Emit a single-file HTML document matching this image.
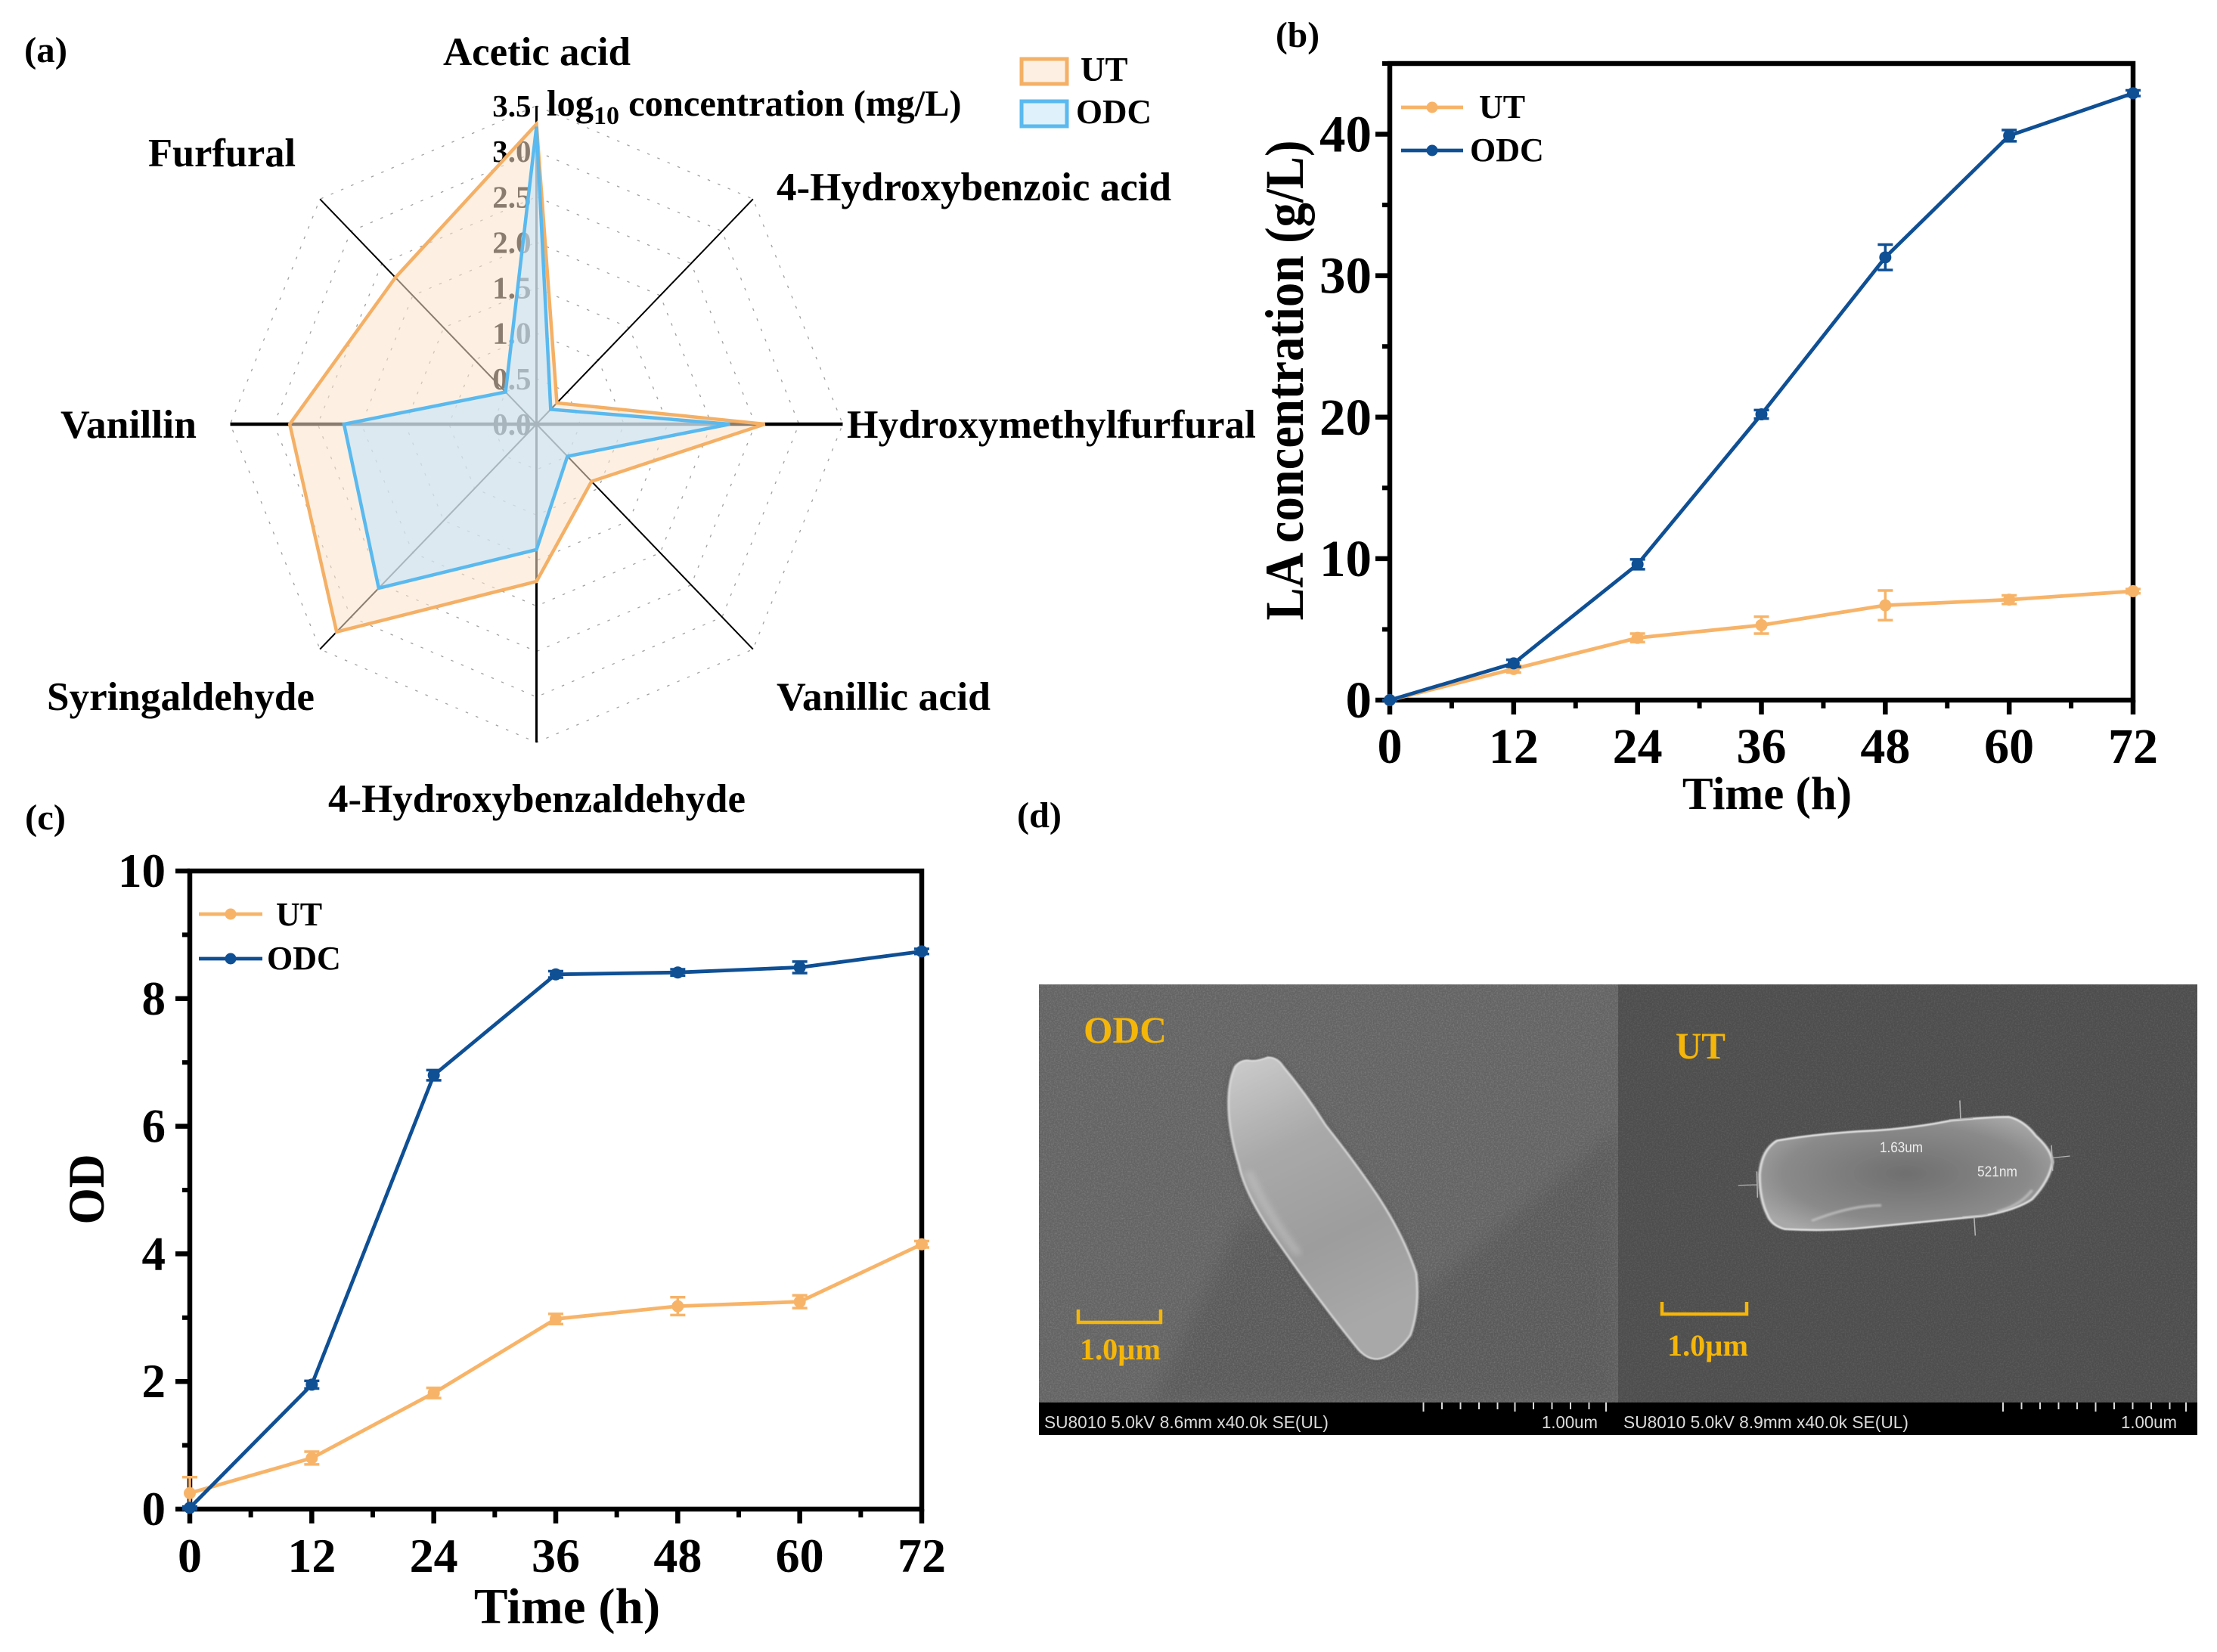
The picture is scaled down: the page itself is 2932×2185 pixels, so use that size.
<!DOCTYPE html>
<html lang="en">
<head>
<meta charset="utf-8">
<title>Radar, LA concentration, OD and SEM figure</title>
<style>
html,body{margin:0;padding:0;background:#fff;width:2932px;height:2185px;overflow:hidden}
svg{display:block}
text{font-family:"Liberation Serif",serif;font-weight:bold;fill:#000}
.sem{font-family:"Liberation Sans",sans-serif;font-weight:normal;fill:#dcdcdc}
.gold{fill:#f5b60a}
</style>
</head>
<body>
<svg id="fig" xmlns="http://www.w3.org/2000/svg" width="2932" height="2185" viewBox="0 0 2932 2185">
<defs>
<filter id="noise" x="0" y="0" width="100%" height="100%"><feTurbulence type="fractalNoise" baseFrequency="0.55" numOctaves="2" seed="4"/><feColorMatrix type="matrix" values="0 0 0 0 1  0 0 0 0 1  0 0 0 0 1  1.6 0 0 0 -0.62"/></filter>
<filter id="blur30"><feGaussianBlur stdDeviation="12"/></filter>
<filter id="blur10"><feGaussianBlur stdDeviation="10"/></filter>
<filter id="blur3"><feGaussianBlur stdDeviation="2.5"/></filter>
<filter id="blur1"><feGaussianBlur stdDeviation="2"/></filter>
<clipPath id="clipOdc"><rect x="1374" y="1302" width="766" height="553"/></clipPath>
<linearGradient id="cellA" x1="0" y1="0" x2="0.3" y2="1"><stop offset="0" stop-color="#cdcdcd"/><stop offset="0.35" stop-color="#a9a9a9"/><stop offset="0.7" stop-color="#9d9d9d"/><stop offset="1" stop-color="#a8a8a8"/></linearGradient>
<radialGradient id="cellB" cx="0.5" cy="0.5" r="0.6"><stop offset="0" stop-color="#6f6f6f"/><stop offset="0.7" stop-color="#8a8a8a"/><stop offset="1" stop-color="#a8a8a8"/></radialGradient>
</defs>

<g id="panel-a">
<text x="32" y="82" font-size="48" textLength="57" lengthAdjust="spacingAndGlyphs">(a)</text>
<g id="radar-grid"></g>
<g id="radar-axes"></g>
<g id="radar-ticks"></g>
<g id="radar-series"></g>
<g id="radar-cats"></g>
<text x="723" y="153" font-size="48.500">log<tspan font-size="34" dy="11">10</tspan><tspan dy="-11"> concentration (mg/L)</tspan></text>
<rect x="1351" y="78" width="60" height="33" fill="#fdf0e2" stroke="#f4b066" stroke-width="5"/>
<rect x="1351" y="134" width="60" height="33" fill="#dff1fb" stroke="#5ab9ee" stroke-width="5"/>
<text x="1429" y="107" font-size="45">UT</text>
<text x="1423" y="163" font-size="45">ODC</text>
</g>

<g id="panel-b">
<text x="1687" y="62" font-size="48" textLength="58" lengthAdjust="spacingAndGlyphs">(b)</text>
</g>
<g id="panel-c">
<text x="33" y="1097" font-size="48" textLength="54" lengthAdjust="spacingAndGlyphs">(c)</text>
</g>

<g id="panel-d">
<text x="1345" y="1094" font-size="48" textLength="59" lengthAdjust="spacingAndGlyphs">(d)</text>

<g>
<rect x="1374" y="1302" width="766" height="553" fill="#636363"/>
<g clip-path="url(#clipOdc)">
<path d="M1524 1855 L1645 1608 L1870 1720 L2140 1496 L2140 1855 Z" fill="#000" opacity="0.09" filter="url(#blur30)"/>
</g>
<rect x="1374" y="1302" width="766" height="553" filter="url(#noise)" opacity="0.2"/>
<g transform="translate(1340 1280) scale(0.5102 0.4082)">
<path d="M575 320 Q590 298 610 300 Q630 305 660 290 Q685 290 700 320 Q760 410 810 510 Q880 620 940 730 Q1010 860 1045 990 Q1055 1100 1030 1190 Q990 1260 945 1268 Q915 1270 890 1230 Q780 1060 670 860 Q600 730 585 640 Q555 520 558 420 Q560 360 575 320 Z" fill="#333" opacity="0.45" filter="url(#blur10)"/>
<path d="M575 320 Q590 298 610 300 Q630 305 660 290 Q685 290 700 320 Q760 410 810 510 Q880 620 940 730 Q1010 860 1045 990 Q1055 1100 1030 1190 Q990 1260 945 1268 Q915 1270 890 1230 Q780 1060 670 860 Q600 730 585 640 Q555 520 558 420 Q560 360 575 320 Z" fill="url(#cellA)" stroke="#dedede" stroke-width="5" filter="url(#blur1)"/>
<path d="M610 660 Q650 780 740 930" fill="none" stroke="#d0d0d0" stroke-width="14" opacity="0.6" filter="url(#blur10)"/>
</g>
<rect x="1374" y="1855" width="766" height="43" fill="#000"/>
</g>

<g>
<rect x="2140" y="1302" width="766" height="553" fill="#4d4d4d"/>
<rect x="2140" y="1302" width="766" height="553" filter="url(#noise)" opacity="0.12"/>
<g transform="translate(2130 1280) scale(0.5115 0.4082)">
<path d="M430 560 Q520 540 640 530 Q760 525 880 495 Q980 483 1030 483 Q1070 495 1100 545 Q1140 590 1143 630 Q1135 690 1090 750 Q1050 785 960 805 Q800 825 660 842 Q560 855 450 847 Q415 835 405 800 Q385 750 385 670 Q390 590 430 560 Z" fill="url(#cellB)" stroke="#e4e4e4" stroke-width="6" filter="url(#blur1)"/>
<path d="M520 820 Q620 770 700 770 M1090 720 Q1060 770 1000 790" fill="none" stroke="#c8c8c8" stroke-width="8" opacity="0.7" filter="url(#blur3)"/>
<path d="M903 430 L905 490 M875 493 L937 488 M943 868 L940 808 M910 806 L975 800 M330 705 L378 703 M378 660 L380 745 M1188 610 L1142 616 M1140 575 L1143 658" fill="none" stroke="#b4b4b4" stroke-width="3"/>
</g>
<text class="sem" x="2486" y="1524" font-size="19" textLength="57" lengthAdjust="spacingAndGlyphs" style="fill:#eee">1.63um</text>
<text class="sem" x="2615" y="1556" font-size="19" textLength="53" lengthAdjust="spacingAndGlyphs" style="fill:#eee">521nm</text>
<rect x="2140" y="1855" width="766" height="43" fill="#000"/>
</g>

<text class="sem" x="1381" y="1889" font-size="23" textLength="376" lengthAdjust="spacingAndGlyphs">SU8010 5.0kV 8.6mm x40.0k SE(UL)</text>
<text class="sem" x="2039" y="1889" font-size="23" textLength="74" lengthAdjust="spacingAndGlyphs">1.00um</text>
<text class="sem" x="2147" y="1889" font-size="23" textLength="377" lengthAdjust="spacingAndGlyphs">SU8010 5.0kV 8.9mm x40.0k SE(UL)</text>
<text class="sem" x="2805" y="1889" font-size="23" textLength="74" lengthAdjust="spacingAndGlyphs">1.00um</text>
<path d="M1882.5 1855v12M1907 1855v9M1931.500 1855v9M1956 1855v9M1980.500 1855v9M2003.500 1855v12M2028 1855v9M2052.500 1855v9M2077 1855v9M2101.500 1855v9M2124 1855v12" stroke="#ddd" stroke-width="2" fill="none"/>
<path d="M2649 1855v12M2673.500 1855v9M2698 1855v9M2722.500 1855v9M2747 1855v9M2771.500 1855v12M2796 1855v9M2820.500 1855v9M2845 1855v9M2869.500 1855v9M2891 1855v12" stroke="#ddd" stroke-width="2" fill="none"/>

<text class="gold" x="1433" y="1379" font-size="50" textLength="110" lengthAdjust="spacingAndGlyphs">ODC</text>
<text class="gold" x="2216" y="1400" font-size="50" textLength="66" lengthAdjust="spacingAndGlyphs">UT</text>
<path d="M1426 1732V1749H1535V1732" fill="none" stroke="#f5b60a" stroke-width="4.500"/>
<path d="M2198 1722V1738H2310V1722" fill="none" stroke="#f5b60a" stroke-width="4.500"/>
<text class="gold" x="1428" y="1798" font-size="40" textLength="107" lengthAdjust="spacingAndGlyphs">1.0µm</text>
<text class="gold" x="2205" y="1793" font-size="40" textLength="107" lengthAdjust="spacingAndGlyphs">1.0µm</text>
</g>
</svg>

<script>
// ---- Radar data ----
const radarCategories = ["Acetic acid","4-Hydroxybenzoic acid","Hydroxymethylfurfural","Vanillic acid","4-Hydroxybenzaldehyde","Syringaldehyde","Vanillin","Furfural"];
const radarUT = [3.30,0.33,2.61,0.89,1.73,3.23,2.82,2.28];
const radarODC = [3.27,0.23,2.21,0.50,1.38,2.55,2.20,0.50];
const radarTicks = ["0.0","0.5","1.0","1.5","2.0","2.5","3.0","3.5"];
// ---- Time-course data ----
const timeHours = [0,12,24,36,48,60,72];
const timeMinorHours = [6,18,30,42,54,66];
const laUT = [0,2.2,4.4,5.3,6.7,7.1,7.7];
const laUTErr = [0,0.25,0.3,0.6,1.05,0.3,0.15];
const laODC = [0,2.6,9.6,20.2,31.3,39.9,42.9];
const laODCErr = [0,0.25,0.35,0.3,0.9,0.4,0.2];
const laYTicks = [0,10,20,30,40];
const laYMinor = [5,15,25,35,45];
const odUT = [0.25,0.8,1.82,2.98,3.18,3.25,4.15];
const odUTErr = [0.25,0.1,0.08,0.08,0.14,0.1,0.05];
const odODC = [0.02,1.95,6.8,8.38,8.41,8.49,8.74];
const odODCErr = [0.02,0.06,0.08,0.05,0.05,0.09,0.04];
const odYTicks = [0,2,4,6,8,10];
const odYMinor = [1,3,5,7,9];

const NS = "http://www.w3.org/2000/svg";
function mk(tag, attrs, parent, text) {
  const el = document.createElementNS(NS, tag);
  for (const k in attrs) el.setAttribute(k, attrs[k]);
  if (text !== undefined) el.textContent = text;
  parent.appendChild(el);
  return el;
}

// ---- Radar drawing ----
const cx = 709.5, cy = 561, rMaxX = 405, rMaxY = 421, rMaxV = 3.5;
function radarPoint(i, v) {
  const a = i * Math.PI / 4;
  return [cx + Math.sin(a) * v / rMaxV * rMaxX, cy - Math.cos(a) * v / rMaxV * rMaxY];
}
const gridG = document.getElementById("radar-grid");
radarTicks.forEach(function (t) {
  const v = parseFloat(t);
  if (v === 0) return;
  const pts = radarCategories.map(function (_, i) { return radarPoint(i, v).join(","); }).join(" ");
  const ring = mk("polygon", {points: pts, fill: "none", stroke: "#a0a0a0", "stroke-width": 1.3, "stroke-dasharray": "3.5 11"}, gridG);
  
  
});
const axG = document.getElementById("radar-axes");
radarCategories.forEach(function (c, i) {
  const e = radarPoint(i, rMaxV);
  const sw = (i % 4 === 2) ? 4.5 : (i % 4 === 0 ? 3 : 2);
  const spoke = mk("line", {x1: cx, y1: cy, x2: e[0], y2: e[1], stroke: "#000", "stroke-width": sw}, axG);
  
  
});
const tickG = document.getElementById("radar-ticks");
radarTicks.forEach(function (t) {
  const p = radarPoint(0, parseFloat(t));
  const lab = mk("text", {x: cx - 7, y: p[1] + 14, "font-size": 41, "text-anchor": "end"}, tickG, t);
  
  
});
const serG = document.getElementById("radar-series");
function radarPoly(values, fill, stroke, name) {
  const pts = values.map(function (v, i) { return radarPoint(i, v).join(","); }).join(" ");
  const poly = mk("polygon", {points: pts, fill: fill, "fill-opacity": 0.55, stroke: stroke, "stroke-width": 4.5, "stroke-linejoin": "miter"}, serG);
  
  
}
radarPoly(radarUT, "rgb(251,228,203)", "#f4b066", "radar-series-ut");
radarPoly(radarODC, "rgb(193,227,253)", "#5ab9ee", "radar-series-odc");

// Category label placement follows the layout of the source figure
const catLayout = [[586,86,248],[1027,265,522],[1120,579,541],[1027,939,283],[434,1074,552],[62,939,354],[80,579,180],[196,220,195]];
const catG = document.getElementById("radar-cats");
radarCategories.forEach(function (c, i) {
  const l = catLayout[i];
  const cat = mk("text", {x: l[0], y: l[1], "font-size": 53, textLength: l[2], lengthAdjust: "spacingAndGlyphs"}, catG, c);
  
  
});

// ---- Line charts ----
const ORANGE = "#f7b469", BLUE = "#0f4f94";
function drawChart(cfg) {
  const g = document.getElementById(cfg.parent);
  const X = function (v) { return cfg.left + (v - cfg.xMin) / (cfg.xMax - cfg.xMin) * (cfg.right - cfg.left); };
  const Y = function (v) { return cfg.bottom - (v - cfg.yMin) / (cfg.yMax - cfg.yMin) * (cfg.bottom - cfg.top); };

  const frame = mk("rect", {x: cfg.left, y: cfg.top, width: cfg.right - cfg.left, height: cfg.bottom - cfg.top, fill: "none", stroke: "#000", "stroke-width": 6.5}, g);
  
  

  timeHours.forEach(function (t) {
    const tick = mk("line", {x1: X(t), x2: X(t), y1: cfg.bottom, y2: cfg.bottom + 19, stroke: "#000", "stroke-width": 6.5}, g);
    
    
    const lab = mk("text", {x: X(t), y: cfg.xLabelY, "font-size": cfg.xTickFont, "text-anchor": "middle"}, g, String(t));
    
    
  });
  timeMinorHours.forEach(function (t) {
    const tick = mk("line", {x1: X(t), x2: X(t), y1: cfg.bottom, y2: cfg.bottom + 11, stroke: "#000", "stroke-width": 6}, g);
    
    
  });
  cfg.yTicks.forEach(function (v) {
    const tick = mk("line", {x1: cfg.left - 19, x2: cfg.left, y1: Y(v), y2: Y(v), stroke: "#000", "stroke-width": 6.5}, g);
    
    
    const lab = mk("text", {x: cfg.yLabelX, y: Y(v) + cfg.yLabelDy, "font-size": cfg.yTickFont, "text-anchor": "end"}, g, String(v));
    
    
  });
  cfg.yMinor.forEach(function (v) {
    const tick = mk("line", {x1: cfg.left - 10, x2: cfg.left, y1: Y(v), y2: Y(v), stroke: "#000", "stroke-width": 6}, g);
    
    
  });

  cfg.series.forEach(function (s) {
    const pts = timeHours.map(function (t, i) { return X(t) + "," + Y(s.values[i]); }).join(" ");
    const line = mk("polyline", {points: pts, fill: "none", stroke: s.color, "stroke-width": 4.8, "stroke-linejoin": "round"}, g);
    
    
    timeHours.forEach(function (t, i) {
      const x = X(t), y1 = Y(s.values[i] - s.errs[i]), y2 = Y(s.values[i] + s.errs[i]);
      const d = "M" + (x - 10) + " " + y1 + "H" + (x + 10) + "M" + (x - 10) + " " + y2 + "H" + (x + 10) + "M" + x + " " + y1 + "V" + y2;
      const err = mk("path", {d: d, fill: "none", stroke: s.color, "stroke-width": 3.5}, g);
      
      
      const dot = mk("circle", {cx: x, cy: Y(s.values[i]), r: 8, fill: s.color}, g);
      
      
    });
  });

  cfg.legend.forEach(function (l) {
    const ll = mk("line", {x1: cfg.legendX1, x2: cfg.legendX2, y1: l.y, y2: l.y, stroke: l.color, "stroke-width": 4.8}, g);
    
    
    const lm = mk("circle", {cx: (cfg.legendX1 + cfg.legendX2) / 2, cy: l.y, r: 7.5, fill: l.color}, g);
    
    
    const lt = mk("text", {x: l.tx, y: l.ty, "font-size": 44}, g, l.text);
    
    
  });

  const xt = mk("text", {x: cfg.xTitleX, y: cfg.xTitleY, "font-size": cfg.xTitleFont, "text-anchor": "middle"}, g, "Time (h)");
  
  
  const yt = mk("text", {transform: "translate(" + cfg.yTitleX + " " + cfg.yTitleY + ") rotate(-90)", "font-size": cfg.yTitleFont, "text-anchor": "middle", textLength: cfg.yTitleLen, lengthAdjust: "spacingAndGlyphs"}, g, cfg.yTitle);
  
  
}

drawChart({
  parent: "panel-b", left: 1838, right: 2821, top: 84, bottom: 926,
  xMin: 0, xMax: 72, yMin: 0, yMax: 45,
  yTicks: laYTicks, yMinor: laYMinor, xTickFont: 66, yTickFont: 69, yLabelDy: 23, xLabelY: 1009, yLabelX: 1814,
  series: [
    {name: "ut", values: laUT, errs: laUTErr, color: ORANGE},
    {name: "odc", values: laODC, errs: laODCErr, color: BLUE}
  ],
  legendX1: 1853, legendX2: 1935,
  legend: [
    {y: 142, color: ORANGE, text: "UT", tx: 1956, ty: 156},
    {y: 199, color: BLUE, text: "ODC", tx: 1944, ty: 213}
  ],
  xTitleX: 2337, xTitleY: 1070, xTitleFont: 61,
  yTitle: "LA concentration (g/L)", yTitleX: 1723, yTitleY: 503, yTitleFont: 72, yTitleLen: 635
});

drawChart({
  parent: "panel-c", left: 251, right: 1219, top: 1152, bottom: 1996,
  xMin: 0, xMax: 72, yMin: 0, yMax: 10,
  yTicks: odYTicks, yMinor: odYMinor, xTickFont: 64, yTickFont: 63, yLabelDy: 21, xLabelY: 2079, yLabelX: 219,
  series: [
    {name: "ut", values: odUT, errs: odUTErr, color: ORANGE},
    {name: "odc", values: odODC, errs: odODCErr, color: BLUE}
  ],
  legendX1: 263, legendX2: 347,
  legend: [
    {y: 1209, color: ORANGE, text: "UT", tx: 365, ty: 1224},
    {y: 1268, color: BLUE, text: "ODC", tx: 353, ty: 1282}
  ],
  xTitleX: 750, xTitleY: 2147, xTitleFont: 67,
  yTitle: "OD", yTitleX: 137, yTitleY: 1573, yTitleFont: 68, yTitleLen: 93
});
</script>
</body>
</html>
